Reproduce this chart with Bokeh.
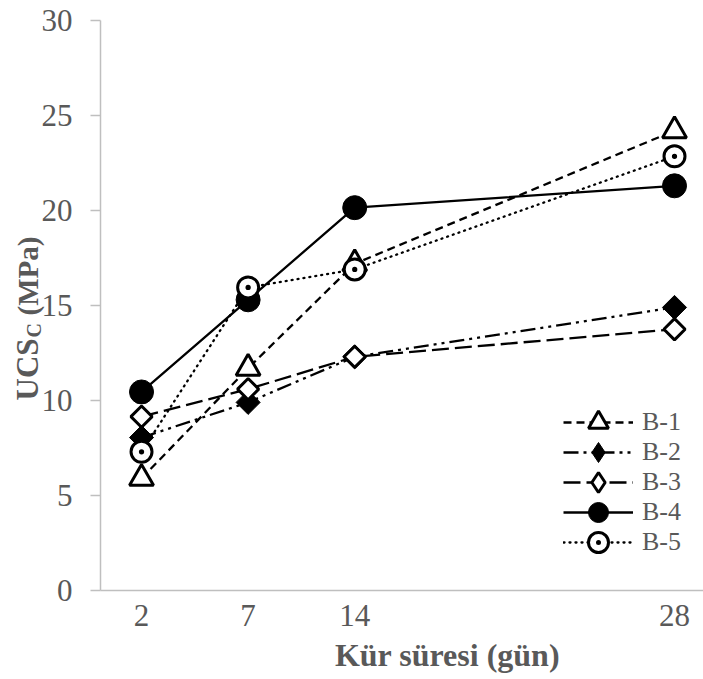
import math
from bokeh.plotting import figure
from bokeh.models import Range1d, FixedTicker, Label, Legend, LegendItem
from bokeh.embed import file_html
from bokeh.resources import INLINE

# ---- data ----
day_labels = ["2", "7", "14", "", "", "28"]   # category slots (two empty slots before 28)
days = ["2", "7", "14", "28"]
b1 = [5.9, 11.7, 17.2, 24.2]
b2 = [8.05, 9.9, 12.3, 14.9]
b3 = [9.15, 10.6, 12.3, 13.75]
b4 = [10.45, 15.3, 20.15, 21.3]
b5 = [7.3, 15.95, 16.9, 22.85]
series_names = ["B-1", "B-2", "B-3", "B-4", "B-5"]
y_ticks = [0, 5, 10, 15, 20, 25, 30]
y_lo, y_hi = 0, 30

x_idx = [day_labels.index(d) for d in days]

AX = "#bfbfbf"
TXT = "#595959"
SERIF = "Liberation Serif"
W, H = 703, 679

# the frame covers the whole canvas; axes are pinned with fixed_location so
# that the axis titles (Labels) can sit inside the frame without clipping
x_start, x_end = -0.385, 5.272
p = figure(width=W, height=H, output_backend="svg", toolbar_location=None,
           x_range=Range1d(-1.323, x_end), y_range=Range1d(-4.684, 31.053),
           min_border_left=0, min_border_right=0, min_border_top=0,
           min_border_bottom=0)
p.outline_line_color = None
p.grid.visible = False
p.background_fill_color = "white"
p.border_fill_color = "white"

# y axis
p.yaxis.fixed_location = x_start
p.yaxis.bounds = (y_lo, y_hi)
p.yaxis.ticker = FixedTicker(ticks=y_ticks)
p.yaxis.axis_line_color = AX
p.yaxis.axis_line_width = 1.5
p.yaxis.major_tick_line_color = AX
p.yaxis.major_tick_line_width = 1.5
p.yaxis.major_tick_out = 10
p.yaxis.major_tick_in = 0
p.yaxis.minor_tick_line_color = None
p.yaxis.major_label_text_font = SERIF
p.yaxis.major_label_text_font_size = "31px"
p.yaxis.major_label_text_color = TXT
p.yaxis.major_label_standoff = 18

# x axis
p.xaxis.fixed_location = y_lo
p.xaxis.bounds = (x_start, x_end)
p.xaxis.ticker = FixedTicker(ticks=x_idx)
p.xaxis.major_label_overrides = {i: day_labels[i] for i in x_idx}
p.xaxis.axis_line_color = AX
p.xaxis.axis_line_width = 1.5
p.xaxis.major_tick_line_color = None
p.xaxis.major_tick_out = 0
p.xaxis.minor_tick_line_color = None
p.xaxis.major_label_text_font = SERIF
p.xaxis.major_label_text_font_size = "31px"
p.xaxis.major_label_text_color = TXT
p.xaxis.major_label_standoff = 14

LW = 2.3
legend_items = []

def add_series(vals, name, dash, marker, fill, size, mlw, angle=0.0,
               cap="butt", legend_marker=None):
    ln = p.line(x_idx, vals, line_color="black", line_width=LW, line_dash=dash,
                line_cap=cap)
    rends = [ln]
    if legend_marker is not None:
        # tiny marker hidden under the rotated square; supplies the legend glyph
        lm = p.scatter(x_idx, vals, marker=legend_marker, size=1, fill_color=fill,
                       line_color="black", line_width=mlw)
        rends.append(lm)
    sc = p.scatter(x_idx, vals, marker=marker, size=size, fill_color=fill,
                   line_color="black", line_width=mlw, angle=angle)
    if legend_marker is None:
        rends.append(sc)
    legend_items.append(LegendItem(label=name, renderers=rends))

add_series(b1, series_names[0], "8 5", "triangle", "white", 24, 3)
add_series(b2, series_names[1], "15 5 3 5 3 5", "square", "black", 17, 1,
           angle=math.pi / 4, legend_marker="diamond")
add_series(b3, series_names[2], "17 6", "square", "white", 15, 3,
           angle=math.pi / 4, legend_marker="diamond")
add_series(b4, series_names[3], "solid", "circle", "black", 24, 1)
add_series(b5, series_names[4], "1 5", "circle_dot", "white", 21, 3, cap="round")

# one legend box per row so rows can be packed tighter than the glyph box
row_step = 30
for i, item in enumerate(legend_items):
    lg = Legend(items=[item], location=(563, 232 - row_step * i))
    lg.background_fill_alpha = 0
    lg.border_line_color = None
    lg.padding = 0
    lg.margin = 0
    lg.glyph_width = 70
    lg.glyph_height = 50
    lg.label_height = 25
    lg.spacing = 0
    lg.label_standoff = 9
    lg.label_text_font = SERIF
    lg.label_text_font_size = "26px"
    lg.label_text_color = TXT
    lg.label_text_baseline = "middle"
    p.add_layout(lg)

# y-axis title: UCS_C (MPa), rotated
p.add_layout(Label(x=27, y=279, x_units="screen", y_units="screen",
                   text="UCS", angle=math.pi / 2, text_font=SERIF,
                   text_font_style="bold", text_font_size="31px", text_color=TXT,
                   text_align="left", text_baseline="alphabetic"))
p.add_layout(Label(x=33, y=342, x_units="screen", y_units="screen",
                   text="C", angle=math.pi / 2, text_font=SERIF,
                   text_font_style="bold", text_font_size="20px", text_color=TXT,
                   text_align="left", text_baseline="alphabetic"))
p.add_layout(Label(x=27, y=364, x_units="screen", y_units="screen",
                   text="(MPa)", angle=math.pi / 2, text_font=SERIF,
                   text_font_style="bold", text_font_size="29px", text_color=TXT,
                   text_align="left", text_baseline="alphabetic"))

# x-axis title
p.add_layout(Label(x=447, y=25, x_units="screen", y_units="screen",
                   text="Kür süresi (gün)", text_font=SERIF,
                   text_font_style="bold", text_font_size="32px", text_color=TXT,
                   text_align="center", text_baseline="alphabetic"))

open("out.html", "w").write(file_html(p, INLINE))
